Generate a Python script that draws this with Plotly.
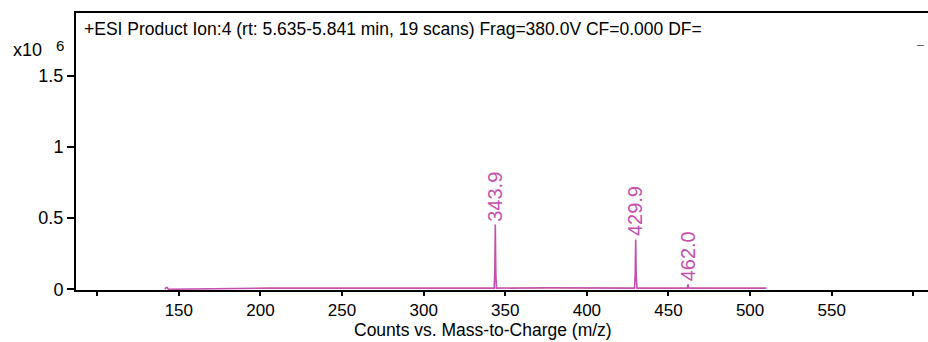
import plotly.graph_objects as go

# profile spectrum (m/z, counts x10^6)
mz = [141.5, 142.2, 142.9, 143.6, 205, 215, 215.5, 216, 260, 300, 343.2, 343.6, 343.9, 344.2, 344.6,
      376, 400, 429.2, 429.6, 429.9, 430.2, 430.7, 461.5, 461.8, 462.0, 462.2, 462.5, 510]
intensity = [0.0, 0.012, 0.012, 0.0, 0.008, 0.008, 0.012, 0.008, 0.008, 0.008, 0.008, 0.12, 0.455, 0.12, 0.008,
             0.010, 0.008, 0.008, 0.10, 0.35, 0.10, 0.008, 0.008, 0.02, 0.035, 0.02, 0.008, 0.008]

peak_mz = [343.9, 429.9, 462.0]
peak_int = [0.455, 0.35, 0.035]
peak_labels = ["343.9", "429.9", "462.0"]

x_ticks = [100, 150, 200, 250, 300, 350, 400, 450, 500, 550, 600]
x_ticktext = ["", "150", "200", "250", "300", "350", "400", "450", "500", "550", ""]
y_ticks = [0, 0.5, 1, 1.5]
y_ticktext = ["0", "0.5", "1", "1.5"]

pink = "#c44fae"
font = "Liberation Sans, Arial, sans-serif"

fig = go.Figure()
fig.add_trace(go.Scatter(x=mz, y=intensity, mode="lines",
                         line=dict(color=pink, width=1.6), hoverinfo="skip"))

for x, y, t in zip(peak_mz, peak_int, peak_labels):
    fig.add_annotation(x=x, y=y, text=t, textangle=-90, showarrow=False,
                       xanchor="center", yanchor="bottom", yshift=1,
                       font=dict(family=font, size=20, color=pink))

fig.add_annotation(xref="paper", yref="paper", x=0.007, y=0.985,
                   text="+ESI Product Ion:4 (rt: 5.635-5.841 min, 19 scans) Frag=380.0V CF=0.000 DF=",
                   showarrow=False, xanchor="left", yanchor="top",
                   font=dict(family=font, size=17.5, color="black"))
fig.add_annotation(xref="paper", yref="paper", x=0.998, y=0.905, text="_",
                   showarrow=False, xanchor="right", yanchor="middle",
                   font=dict(family=font, size=12, color="#555555"))
fig.add_annotation(xref="paper", yref="paper", x=-0.076, y=0.866, text="x10",
                   showarrow=False, xanchor="left", yanchor="middle",
                   font=dict(family=font, size=18, color="black"))
fig.add_annotation(xref="paper", yref="paper", x=-0.026, y=0.884, text="6",
                   showarrow=False, xanchor="left", yanchor="middle",
                   font=dict(family=font, size=15, color="black"))
# axis title as annotation so it sits just under the tick labels
fig.add_annotation(xref="paper", yref="paper", x=0.478, y=-52 / 277,
                   text="Counts vs. Mass-to-Charge (m/z)",
                   showarrow=False, xanchor="center", yanchor="bottom",
                   font=dict(family=font, size=17.5, color="black"))

fig.update_layout(
    width=928, height=342,
    margin=dict(l=76, r=0, t=13, b=52),
    paper_bgcolor="white", plot_bgcolor="white",
    showlegend=False,
    font=dict(family=font, size=17, color="black"),
    xaxis=dict(range=[87, 609], tickvals=x_ticks, ticktext=x_ticktext, automargin=False,
               showline=True, linecolor="black", linewidth=2, mirror=True,
               ticks="outside", ticklen=4, tickwidth=1.5, tickcolor="black",
               showgrid=False, zeroline=False, tickfont=dict(size=17)),
    yaxis=dict(range=[-0.005, 1.94], tickvals=y_ticks, ticktext=y_ticktext, automargin=False,
               showline=True, linecolor="black", linewidth=2,
               ticks="outside", ticklen=7, tickwidth=1.5, tickcolor="black",
               showgrid=False, zeroline=False, tickfont=dict(size=18)),
)

fig.write_html("out.html", config={"displayModeBar": False},
               post_script="document.body.style.margin='0';")
